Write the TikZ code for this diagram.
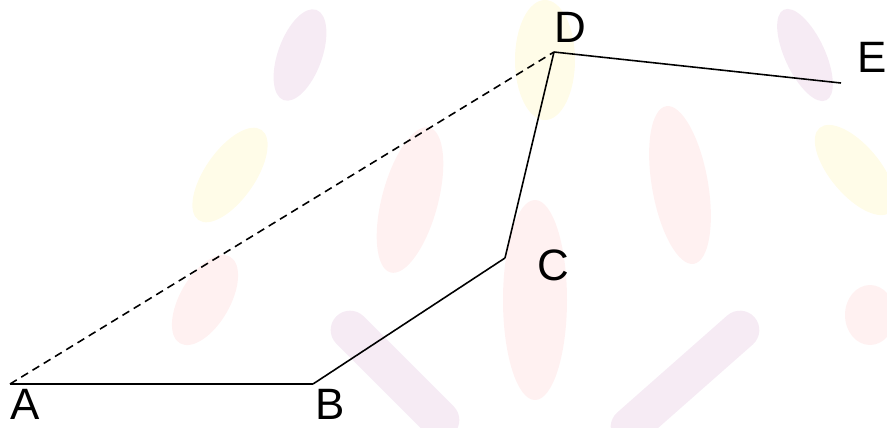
\documentclass[tikz,border=0pt]{standalone}
\usepackage{fontspec}
\setmainfont{Liberation Sans}
\usetikzlibrary{positioning}

\begin{document}
\begin{tikzpicture}[x=0.02cm,y=-0.02cm]
\tikzset{
  ptlabel/.style={inner sep=0pt,font=\fontsize{25}{30}\selectfont},
  solidedge/.style={line width=0.9pt},
  dashededge/.style={line width=0.9pt,dash pattern=on 4.5pt off 3pt},
  leafpurple/.style={purple!70!blue,opacity=0.08},
  leafred/.style={red!70,opacity=0.08},
  leafyellow/.style={yellow!80!orange,opacity=0.09}
}
\useasboundingbox (0,0) rectangle (887,427);
% faint background leaves
\fill[leafpurple,rotate around={-20:(300,55)}] (300,55) ellipse (22 and 48);
\fill[leafyellow,rotate around={-35:(230,175)}] (230,175) ellipse (25 and 55);
\fill[leafred,rotate around={-15:(410,200)}] (410,200) ellipse (28 and 75);
\fill[leafred] (535,300) ellipse (32 and 100);
\fill[leafyellow] (545,60) ellipse (30 and 60);
\fill[leafred,rotate around={10:(680,185)}] (680,185) ellipse (28 and 80);
\fill[leafpurple,rotate around={25:(805,55)}] (805,55) ellipse (20 and 50);
\fill[leafyellow,rotate around={40:(855,170)}] (855,170) ellipse (25 and 55);
\fill[leafred,rotate around={-30:(205,300)}] (205,300) ellipse (25 and 50);
\fill[leafred] (870,315) ellipse (25 and 30);
\draw[leafpurple,line width=22pt,line cap=round] (350,330) -- (440,420);
\draw[leafpurple,line width=22pt,line cap=round] (740,330) -- (630,427);

% points
\coordinate (A) at (10,384);
\coordinate (B) at (313,384);
\coordinate (C) at (505,258);
\coordinate (D) at (554,52);
\coordinate (E) at (841,83);

% labels
\node[ptlabel] (lA) at (25,404) {A};
\node[ptlabel] (lB) at (330,404) {B};
\node[ptlabel] (lC) at (553,265) {C};
\node[ptlabel] (lD) at (570,27) {D};
\node[ptlabel] (lE) at (872,57) {E};

% edges
\draw[solidedge] (A) -- (B);
\draw[solidedge] (B) -- (C);
\draw[solidedge] (C) -- (D);
\draw[solidedge] (D) -- (E);
\draw[dashededge] (A) -- (D);
\end{tikzpicture}
\end{document}
